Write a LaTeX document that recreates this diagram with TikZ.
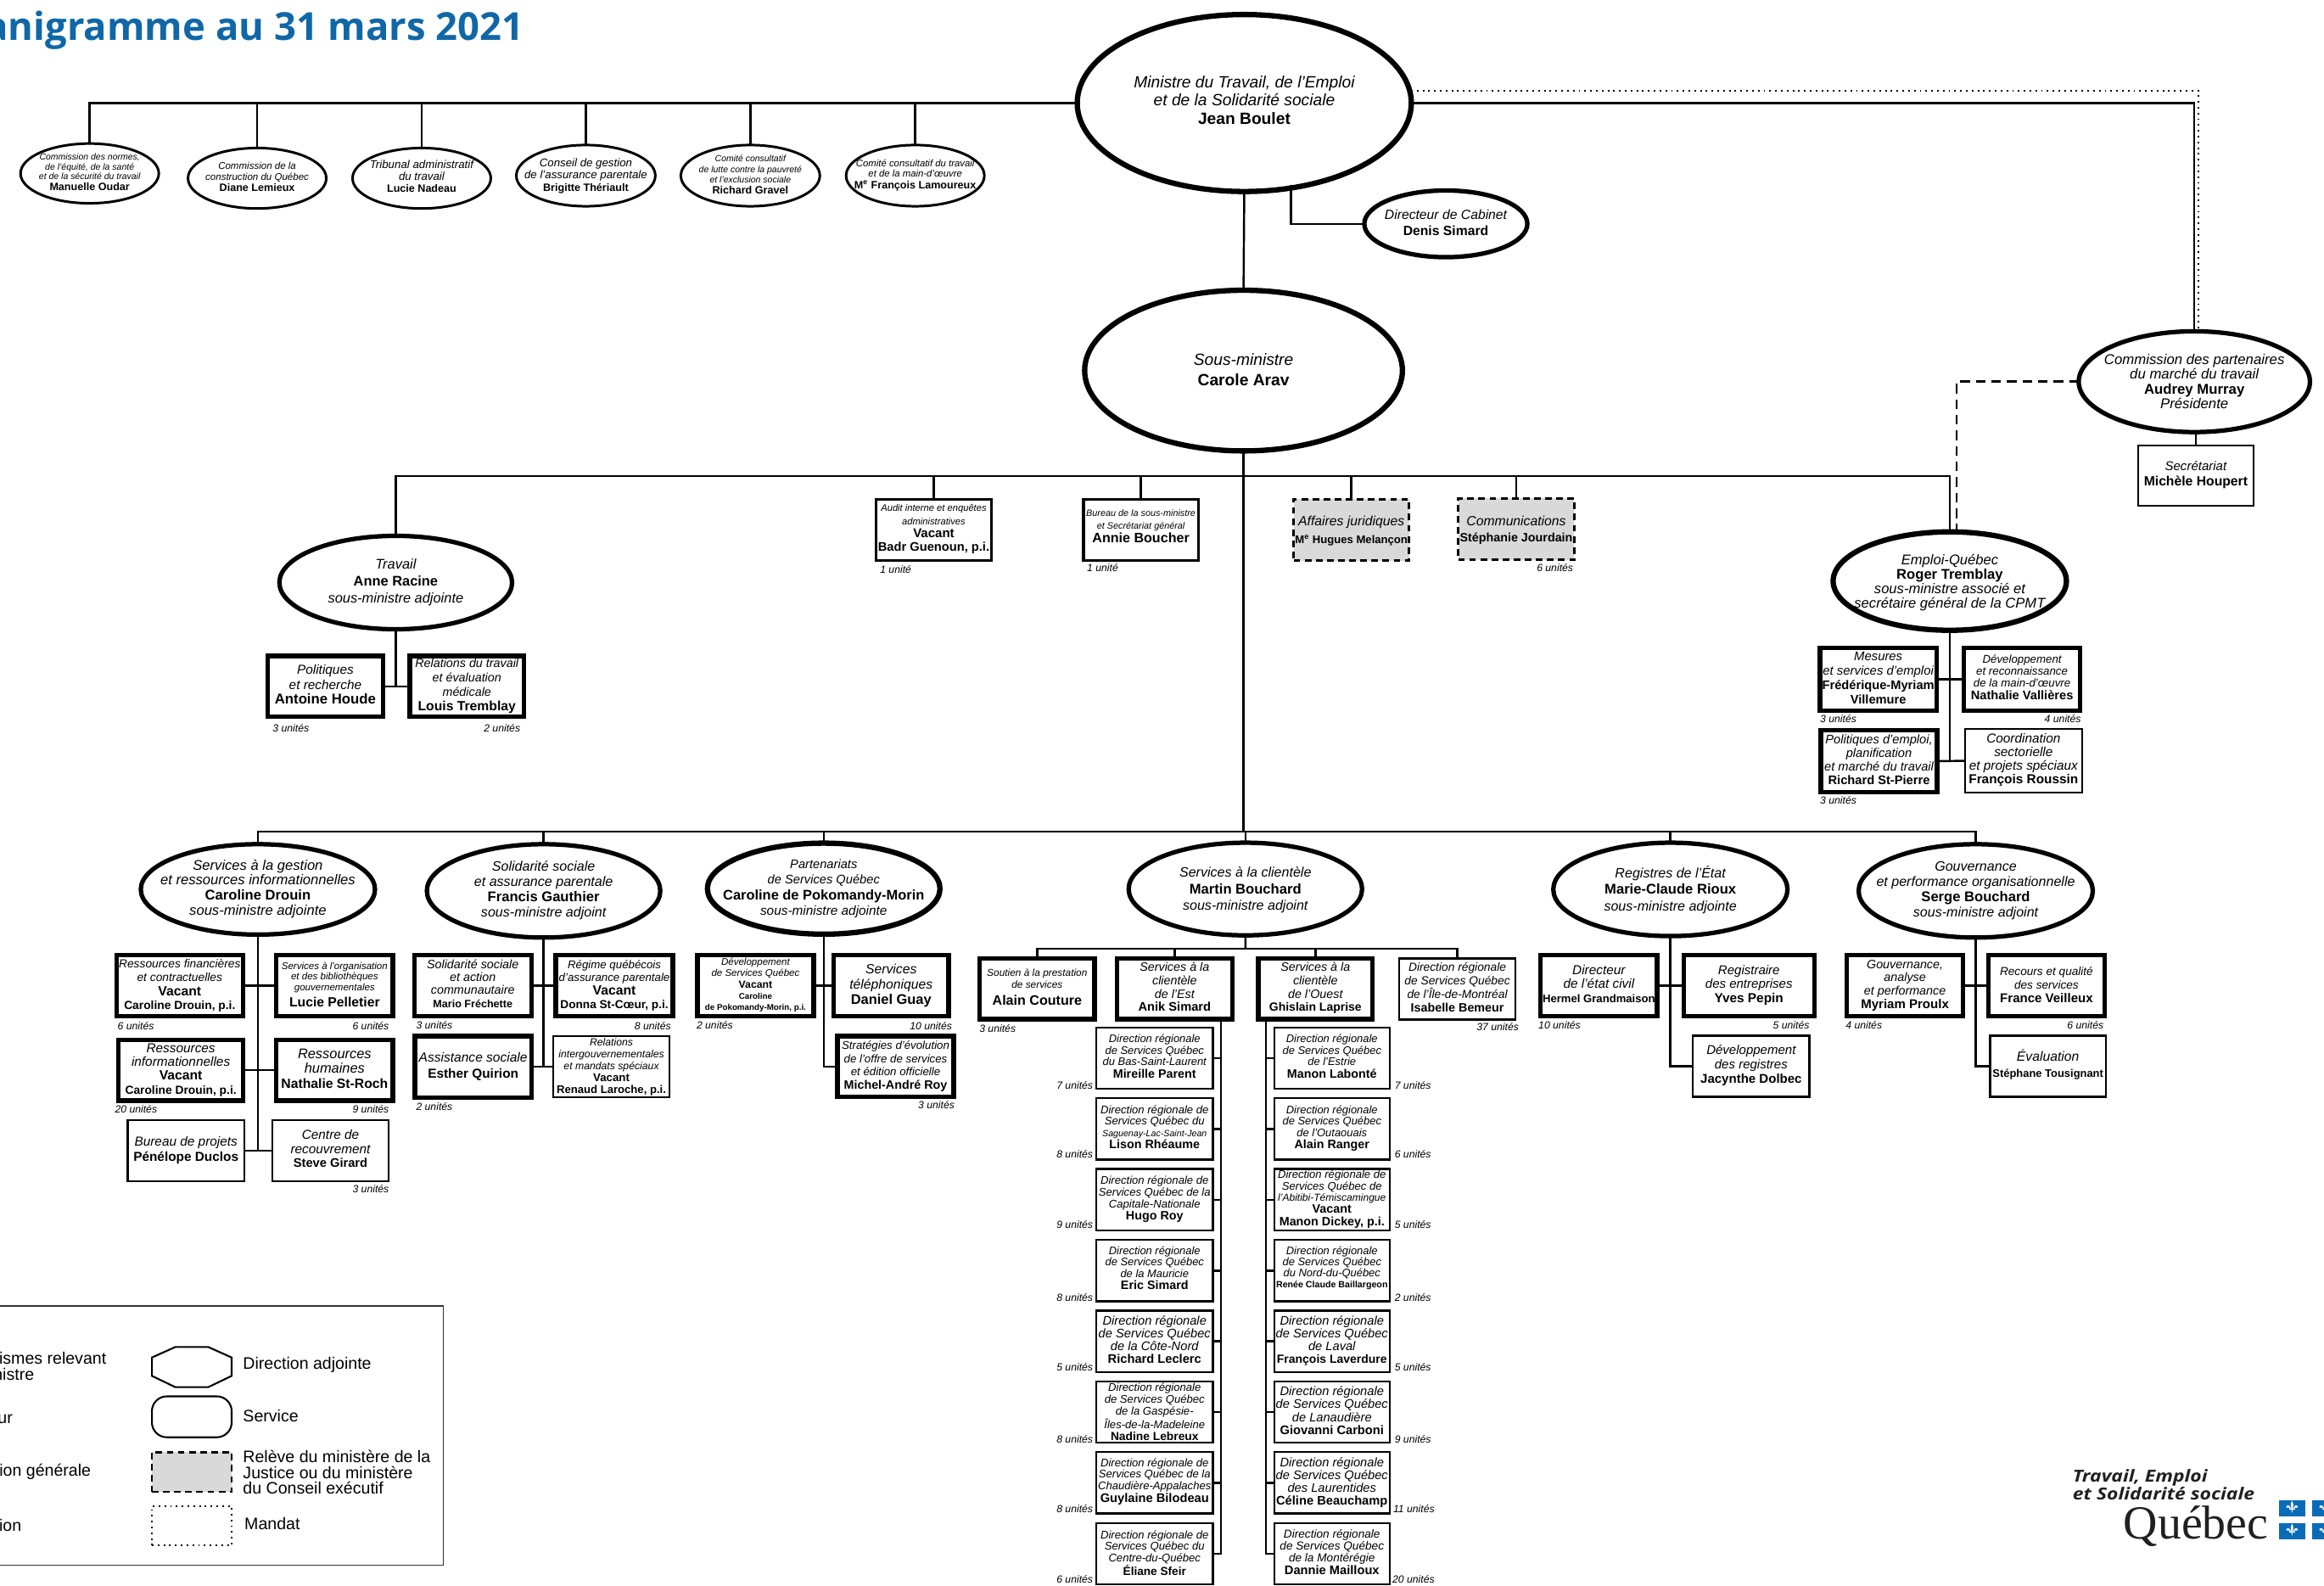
\documentclass[tikz,border=0pt]{standalone}
\usepackage{fontspec}
\setmainfont{Liberation Sans}
\newfontfamily\ttlfont{Open Sans}
\newfontfamily\logofont[FakeStretch=1.17]{Open Sans}
\newfontfamily\quefont{Liberation Serif}
\usetikzlibrary{shapes.geometric}
\definecolor{ttlblue}{HTML}{0F67A8}
\definecolor{flagblue}{HTML}{0A6CB8}
\definecolor{logotxt}{HTML}{231F20}
\definecolor{grayfill}{HTML}{D9D9D9}
\gdef\ztdy{0}
\newcommand\up[1]{\gdef\ztdy{#1}}
\newcommand\ztx[2]{{\fontsize{#1}{#1}\selectfont\smash{\makebox[0pt]{\raisebox{\dimexpr\ztdy pt-0.25em\relax}{\begin{tabular}{@{}c@{}}#2\end{tabular}}}}}\gdef\ztdy{0}}
\newcommand\tI[2]{{\fontsize{#1}{#1}\selectfont\itshape #2}}
\newcommand\tB[2]{{\fontsize{#1}{#1}\selectfont\bfseries #2}}
\newcommand\mkn[9]{%
 \pgfmathsetmacro\cxx{(#4+#6)/2}\pgfmathsetmacro\cyy{(#5+#7)/2}%
 \pgfmathsetmacro\ww{#6-#4-#2}\pgfmathsetmacro\hh{#7-#5-#2}%
 \node[#1,line width=#2pt,minimum width=\ww pt,minimum height=\hh pt] (#3) at (\cxx,\cyy) {\ztx{#8}{#9}};}
\newcommand\tb{\mkn{rectb}{3}}
\newcommand\nb{\mkn{rectb}{1.3}}
\newcommand\mb{\mkn{rectb}{2}}
\newcommand\gb{\mkn{grayb}{1.6}}
\newcommand\ee{\mkn{ell}}
\newcommand\ul[5]{\node[unitl,anchor=#2] (#1) at (#3,#4) {#5};}
\newcommand\fleur[2]{\begin{scope}[shift={(#1,#2)},scale=0.85]
 \fill[white] (0,-5.2) .. controls (1.5,-3) and (1,-1) .. (0.5,1) -- (-0.5,1) .. controls (-1,-1) and (-1.5,-3) .. (0,-5.2) -- cycle;
 \fill[white] (0.9,1) .. controls (1.2,-1.2) and (3.6,-2.8) .. (4.5,-1) .. controls (4.9,0) and (3.9,0.8) .. (3.3,0.1) .. controls (2.8,-0.4) and (2.1,0.2) .. (1.7,1) -- cycle;
 \fill[white] (-0.9,1) .. controls (-1.2,-1.2) and (-3.6,-2.8) .. (-4.5,-1) .. controls (-4.9,0) and (-3.9,0.8) .. (-3.3,0.1) .. controls (-2.8,-0.4) and (-2.1,0.2) .. (-1.7,1) -- cycle;
 \fill[white] (-2.2,1) rectangle (2.2,1.7);
 \fill[white] (-0.5,1.7) -- (0.5,1.7) -- (0,4.4) -- cycle;
 \end{scope}}
\tikzset{
 rectb/.style={draw=black,fill=white,rectangle,inner sep=0pt,outer sep=0pt},
 grayb/.style={draw=black,fill=grayfill,rectangle,inner sep=0pt,outer sep=0pt,dash pattern=on 4.5pt off 3pt},
 ell/.style={draw=black,fill=white,ellipse,inner sep=0pt,outer sep=0pt},
 unitl/.style={inner sep=0pt,outer sep=0pt,font=\fontsize{7}{8}\selectfont\itshape},
 conn/.style={draw=black,line width=1.4pt},
 legt/.style={inner sep=0pt,outer sep=0pt,anchor=west,align=left,font=\fontsize{11.2}{10.4}\selectfont},
 lege/.style={inner sep=0pt,outer sep=0pt,anchor=east,font=\fontsize{11.2}{10.4}\selectfont},
}
\begin{document}
\begin{tikzpicture}[x=1pt,y=-1pt]
\useasboundingbox (0,0) rectangle (1568,1069.4);
\node[inner sep=0pt,outer sep=0pt,anchor=base east,text=ttlblue,font=\ttlfont\bfseries\fontsize{26}{28}\selectfont] (title) at (353.5,27) {anigramme au 31 mars 2021};

% top
\up{0.5}\ee{3.6}{min}{725}{8}{954}{131}{12.2}{\tI{11}{Ministre du Travail, de l’Emploi}\\\tI{11}{et de la Solidarité sociale}\\\tB{11}{Jean Boulet}}
\up{-1}\ee{3.6}{sm}{730}{194}{948}{306}{13.5}{\tI{11}{Sous-ministre}\\\tB{11}{Carole Arav}}
\ee{3}{cab}{919}{127}{1032}{175}{11}{\tI{9}{Directeur de Cabinet}\\\tB{9}{Denis Simard}}
\ee{1.7}{o1}{13}{96}{108}{138}{6.6}{\tI{6}{Commission des normes,}\\\tI{6}{de l’équité, de la santé}\\\tI{6}{et de la sécurité du travail}\\\tB{7.2}{Manuelle Oudar}}
\ee{1.7}{o2}{126}{99}{221}{141.5}{7.4}{\tI{6.6}{Commission de la}\\\tI{6.6}{construction du Québec}\\\tB{7.2}{Diane Lemieux}}
\ee{1.7}{o3}{237}{99}{332}{141.5}{8}{\tI{7.6}{Tribunal administratif}\\\tI{7.6}{du travail}\\\tB{7.2}{Lucie Nadeau}}
\up{-0.5}\ee{1.7}{o4}{347.5}{97}{443}{140}{8.2}{\tI{7.6}{Conseil de gestion}\\\tI{7.6}{de l’assurance parentale}\\\tB{7.2}{Brigitte Thériault}}
\ee{1.7}{o5}{458.5}{97}{554}{140}{7}{\tI{6}{Comité consultatif}\\\tI{6}{de lutte contre la pauvreté}\\\tI{6}{et l’exclusion sociale}\\\tB{7.2}{Richard Gravel}}
\ee{1.7}{o6}{570}{97}{665}{140}{7}{\tI{6.5}{Comité consultatif du travail}\\\tI{6.5}{et de la main-d’œuvre}\\\tB{7.2}{M\textsuperscript{e} François Lamoureux}}
\up{-1.2}\ee{3}{cpmt}{1401}{222}{1560}{293}{10}{\tI{9.6}{Commission des partenaires}\\\tI{9.6}{du marché du travail}\\\tB{9.6}{Audrey Murray}\\\tI{9.6}{Présidente}}
\up{0.5}\nb{sec}{1442}{300}{1521}{342}{10.8}{\tI{8.6}{Secrétariat}\\\tB{9}{Michèle Houpert}}

% sous-ministre row
\ee{3}{tra}{187}{360}{347}{426}{11.5}{\tI{9.4}{Travail}\\\tB{9.4}{Anne Racine}\\\tI{9.4}{sous-ministre adjointe}}
\up{1}\mb{aud}{590}{336}{670}{379}{9}{\tI{6.4}{Audit interne et enquêtes}\\\tI{6.4}{administratives}\\\tB{8.6}{Vacant}\\\tB{8.4}{Badr Guenoun, p.i.}}
\up{2}\mb{bur}{730}{336}{809.5}{379}{8.6}{\tI{6.2}{Bureau de la sous-ministre}\\\tI{6.2}{et Secrétariat général}\\\tB{9.2}{Annie Boucher}}
\up{-1}\gb{aff}{872}{336}{951.5}{379}{12}{\tI{9}{Affaires juridiques}\\\tB{7.5}{M\textsuperscript{e} Hugues Melançon}}
\up{-1}\gb{com}{983}{335.5}{1063}{378.5}{11}{\tI{9}{Communications}\\\tB{8.2}{Stéphanie Jourdain}}
\up{-1.5}\ee{3.6}{eq}{1235}{357}{1396}{427}{9.3}{\tI{9.5}{Emploi-Québec}\\\tB{9.5}{Roger Tremblay}\\\tI{9.5}{sous-ministre associé et}\\\tI{9.5}{secrétaire général de la CPMT}}

% Travail children
\tb{tr1}{179}{441}{260}{485}{10}{\tI{8.8}{Politiques}\\\tI{8.8}{et recherche}\\\tB{9.6}{Antoine Houde}}
\tb{tr2}{275}{441}{355}{485}{9.6}{\tI{8.2}{Relations du travail}\\\tI{8.2}{et évaluation}\\\tI{8.2}{médicale}\\\tB{9}{Louis Tremblay}}
% Emploi-Quebec children
\tb{eq1}{1226.5}{435.5}{1308}{481}{9.8}{\tI{8.5}{Mesures}\\\tI{8.5}{et services d’emploi}\\\tB{8.4}{Frédérique-Myriam}\\\tB{8.4}{Villemure}}
\tb{eq2}{1323.5}{435.5}{1405}{481}{8}{\tI{7.6}{Développement}\\\tI{7.6}{et reconnaissance}\\\tI{7.6}{de la main-d’œuvre}\\\tB{8.4}{Nathalie Vallières}}
\tb{eq3}{1227}{491}{1308.5}{536}{9.2}{\tI{8.4}{Politiques d’emploi,}\\\tI{8.4}{planification}\\\tI{8.4}{et marché du travail}\\\tB{8.4}{Richard St-Pierre}}
\nb{eq4}{1325}{491}{1405.5}{535.5}{9.2}{\tI{8.8}{Coordination}\\\tI{8.8}{sectorielle}\\\tI{8.8}{et projets spéciaux}\\\tB{8.8}{François Roussin}}

% level 2 ellipses
\ee{3}{a1}{93.5}{568}{254.5}{632}{10.2}{\tI{9.5}{Services à la gestion}\\\tI{9.5}{et ressources informationnelles}\\\tB{9.5}{Caroline Drouin}\\\tI{9.5}{sous-ministre adjointe}}
\ee{3}{a2}{286.5}{568}{447}{634}{10.4}{\tI{9.2}{Solidarité sociale}\\\tI{9.2}{et assurance parentale}\\\tB{9.5}{Francis Gauthier}\\\tI{9.2}{sous-ministre adjoint}}
\ee{3.6}{a3}{475.5}{567}{636}{632}{10.4}{\tI{8.4}{Partenariats}\\\tI{8.4}{de Services Québec}\\\tB{9.4}{Caroline de Pokomandy-Morin}\\\tI{8.8}{sous-ministre adjointe}}
\up{-1}\ee{3}{a4}{760}{567}{920.5}{632.5}{11.2}{\tI{9.2}{Services à la clientèle}\\\tB{9.5}{Martin Bouchard}\\\tI{9.2}{sous-ministre adjoint}}
\up{-1}\ee{3}{a5}{1046.5}{567}{1207.5}{633}{11}{\tI{9.2}{Registres de l’État}\\\tB{9.5}{Marie-Claude Rioux}\\\tI{9.2}{sous-ministre adjointe}}
\ee{3}{a6}{1252.5}{568}{1413.5}{634}{10.4}{\tI{9.2}{Gouvernance}\\\tI{9.2}{et performance organisationnelle}\\\tB{9.5}{Serge Bouchard}\\\tI{9.2}{sous-ministre adjoint}}

% a1 children
\tb{g1}{77}{643}{165.5}{687}{9.4}{\tI{7.9}{Ressources financières}\\\tI{7.9}{et contractuelles}\\\tB{9}{Vacant}\\\tB{7.9}{Caroline Drouin, p.i.}}
\tb{g2}{185}{643}{266.5}{687}{7.2}{\tI{6.6}{Services à l’organisation}\\\tI{6.6}{et des bibliothèques}\\\tI{6.6}{gouvernementales}\\[2pt]\tB{9}{Lucie Pelletier}}
\tb{g3}{78.5}{700}{165.5}{744}{9.4}{\tI{8.8}{Ressources}\\\tI{8.8}{informationnelles}\\\tB{9}{Vacant}\\\tB{7.9}{Caroline Drouin, p.i.}}
\tb{g4}{185}{700}{266.5}{744}{10}{\tI{9.4}{Ressources}\\\tI{9.4}{humaines}\\\tB{9}{Nathalie St-Roch}}
\nb{g5}{85.5}{755}{165.5}{797.5}{10}{\tI{8.8}{Bureau de projets}\\\tB{8.8}{Pénélope Duclos}}
\nb{g6}{183}{755}{263}{797.5}{9.6}{\tI{8.8}{Centre de}\\\tI{8.8}{recouvrement}\\\tB{8.4}{Steve Girard}}
% a2 children
\tb{s1}{278}{643}{360}{687}{8.6}{\tI{8.2}{Solidarité sociale}\\\tI{8.2}{et action}\\\tI{8.2}{communautaire}\\\tB{7.2}{Mario Fréchette}}
\tb{s2}{373.5}{643}{455.5}{687}{9}{\tI{7.6}{Régime québécois}\\\tI{7.6}{d’assurance parentale}\\\tB{9}{Vacant}\\\tB{7.8}{Donna St-Cœur, p.i.}}
\tb{s3}{278.5}{697.5}{360}{742}{11}{\tI{8.9}{Assistance sociale}\\\tB{8.8}{Esther Quirion}}
\nb{s4}{372.5}{698.5}{452.5}{741}{8}{\tI{7}{Relations}\\\tI{7}{intergouvernementales}\\\tI{7}{et mandats spéciaux}\\\tB{7.6}{Vacant}\\\tB{7.5}{Renaud Laroche, p.i.}}
% a3 children
\tb{p1}{469}{643}{550.5}{687}{7.6}{\tI{6.6}{Développement}\\\tI{6.6}{de Services Québec}\\\tB{7}{Vacant}\\\tB{5.6}{Caroline}\\\tB{5.6}{de Pokomandy-Morin, p.i.}}
\tb{p2}{561}{643}{641.5}{687}{10.2}{\tI{9}{Services}\\\tI{9}{téléphoniques}\\\tB{9.4}{Daniel Guay}}
\tb{p3}{563.5}{697.5}{645}{741.5}{8.9}{\tI{7.6}{Stratégies d’évolution}\\\tI{7.6}{de l’offre de services}\\\tI{7.6}{et édition officielle}\\\tB{8.2}{Michel-André Roy}}
% a4 children
\up{0.5}\tb{c1}{659.5}{645}{740}{689}{8.4}{\tI{6.8}{Soutien à la prestation}\\\tI{6.8}{de services}\\[2pt]\tB{9.2}{Alain Couture}}
\tb{c2}{752}{645}{833}{689}{9}{\tI{8.2}{Services à la}\\\tI{8.2}{clientèle}\\\tI{8.2}{de l’Est}\\\tB{8.4}{Anik Simard}}
\tb{c3}{847.5}{645}{927.5}{689}{9}{\tI{8.2}{Services à la}\\\tI{8.2}{clientèle}\\\tI{8.2}{de l’Ouest}\\\tB{8}{Ghislain Laprise}}
\nb{c4}{943.5}{646}{1023}{688.5}{8.8}{\tI{7.9}{Direction régionale}\\\tI{7.9}{de Services Québec}\\\tI{7.9}{de l’Île-de-Montréal}\\\tB{8.2}{Isabelle Bemeur}}
% a5 children
\tb{r1}{1038}{643}{1119.5}{687}{9.6}{\tI{8.8}{Directeur}\\\tI{8.8}{de l’état civil}\\\tB{7.5}{Hermel Grandmaison}}
\tb{r2}{1134.5}{643}{1225.5}{687}{9.6}{\tI{8.6}{Registraire}\\\tI{8.6}{des entreprises}\\\tB{8.8}{Yves Pepin}}
\nb{r3}{1141.5}{698}{1221.5}{740.5}{9.6}{\tI{8.6}{Développement}\\\tI{8.6}{des registres}\\\tB{8.6}{Jacynthe Dolbec}}
% a6 children
\tb{v1}{1244.5}{643}{1326}{687}{9}{\tI{8.2}{Gouvernance,}\\\tI{8.2}{analyse}\\\tI{8.2}{et performance}\\\tB{8.6}{Myriam Proulx}}
\up{-0.5}\tb{v2}{1340}{643}{1421.5}{687}{9.2}{\tI{7.8}{Recours et qualité}\\\tI{7.8}{des services}\\\tB{8.6}{France Veilleux}}
\nb{v3}{1342}{698}{1421.5}{740.5}{11}{\tI{9}{Évaluation}\\\tB{7.4}{Stéphane Tousignant}}

% regional left
\nb{d1}{739}{692.5}{819}{735.2}{7.6}{\tI{7.4}{Direction régionale}\\\tI{7.4}{de Services Québec}\\\tI{7.4}{du Bas-Saint-Laurent}\\\tB{8.2}{Mireille Parent}}
\nb{d2}{739}{740.3}{819}{783}{7.7}{\tI{7.5}{Direction régionale de}\\\tI{7.5}{Services Québec du}\\\tI{6.1}{Saguenay-Lac-Saint-Jean}\\\tB{8.2}{Lison Rhéaume}}
\nb{d3}{739}{788}{819}{830.7}{7.8}{\tI{7.5}{Direction régionale de}\\\tI{7.5}{Services Québec de la}\\\tI{7.5}{Capitale-Nationale}\\\tB{8.2}{Hugo Roy}}
\up{0.5}\nb{d4}{739}{835.8}{819}{878.5}{7.6}{\tI{7.4}{Direction régionale}\\\tI{7.4}{de Services Québec}\\\tI{7.4}{de la Mauricie}\\\tB{8.2}{Eric Simard}}
\nb{d5}{739}{883.5}{819}{926.2}{8.4}{\tI{8.4}{Direction régionale}\\\tI{8.4}{de Services Québec}\\\tI{8.4}{de la Côte-Nord}\\\tB{8.4}{Richard Leclerc}}
\up{-1}\nb{d6}{739}{931.3}{819}{974}{8}{\tI{7.5}{Direction régionale}\\\tI{7.5}{de Services Québec}\\\tI{7.5}{de la Gaspésie-}\\\tI{7.5}{Îles-de-la-Madeleine}\\\tB{7.9}{Nadine Lebreux}}
\up{0.5}\nb{d7}{739}{979}{819}{1021.7}{7.8}{\tI{7.5}{Direction régionale de}\\\tI{7.5}{Services Québec de la}\\\tI{7.5}{Chaudière-Appalaches}\\\tB{8.4}{Guylaine Bilodeau}}
\up{-0.8}\nb{d8}{739}{1026.8}{819}{1069.4}{7.6}{\tI{7.5}{Direction régionale de}\\\tI{7.5}{Services Québec du}\\\tI{7.5}{Centre-du-Québec}\\\tB{7.8}{Éliane Sfeir}}
% regional right
\nb{e1}{859}{692.5}{938.3}{735.2}{7.6}{\tI{7.4}{Direction régionale}\\\tI{7.4}{de Services Québec}\\\tI{7.4}{de l’Estrie}\\\tB{8.2}{Manon Labonté}}
\nb{e2}{859}{740.3}{938.3}{783}{7.7}{\tI{7.4}{Direction régionale}\\\tI{7.4}{de Services Québec}\\\tI{7.4}{de l’Outaouais}\\\tB{8.2}{Alain Ranger}}
\nb{e3}{859}{788}{938.3}{830.7}{7.8}{\tI{7.5}{Direction régionale de}\\\tI{7.5}{Services Québec de}\\\tI{6.9}{l’Abitibi-Témiscamingue}\\\tB{8.2}{Vacant}\\\tB{8.2}{Manon Dickey, p.i.}}
\up{1.5}\nb{e4}{859}{835.8}{938.3}{878.5}{7.1}{\tI{7.4}{Direction régionale}\\\tI{7.4}{de Services Québec}\\\tI{7.4}{du Nord-du-Québec}\\\tB{6.1}{Renée Claude Baillargeon}}
\nb{e5}{859}{883.5}{938.3}{926.2}{8.4}{\tI{8.4}{Direction régionale}\\\tI{8.4}{de Services Québec}\\\tI{8.4}{de Laval}\\\tB{8}{François Laverdure}}
\nb{e6}{859}{931.3}{938.3}{974}{8.4}{\tI{8.4}{Direction régionale}\\\tI{8.4}{de Services Québec}\\\tI{8.4}{de Lanaudière}\\\tB{8.4}{Giovanni Carboni}}
\nb{e7}{859}{979}{938.3}{1021.7}{8.4}{\tI{8.4}{Direction régionale}\\\tI{8.4}{de Services Québec}\\\tI{8.4}{des Laurentides}\\\tB{8.4}{Céline Beauchamp}}
\nb{e8}{859}{1026.8}{938.3}{1069.4}{8}{\tI{7.8}{Direction régionale}\\\tI{7.8}{de Services Québec}\\\tI{7.8}{de la Montérégie}\\\tB{8.4}{Dannie Mailloux}}

% unit labels
\ul{u1}{west}{593.8}{384.4}{1 unité}\ul{u2}{west}{733.4}{383.3}{1 unité}\ul{u3}{east}{1061.4}{383.3}{6 unités}
\ul{u4}{west}{184}{491}{3 unités}\ul{u5}{east}{351}{491}{2 unités}
\ul{u6}{west}{1228}{485}{3 unités}\ul{u7}{east}{1404}{485}{4 unités}\ul{u8}{west}{1228}{540}{3 unités}
\ul{u9}{west}{79.4}{692}{6 unités}\ul{u10}{east}{262.4}{692}{6 unités}\ul{u11}{west}{77.6}{748.5}{20 unités}\ul{u12}{east}{262.4}{748.5}{9 unités}\ul{u13}{east}{262.4}{802}{3 unités}
\ul{u14}{west}{280.8}{691.3}{3 unités}\ul{u15}{east}{452.7}{692}{8 unités}\ul{u16}{west}{280.8}{746.3}{2 unités}
\ul{u17}{west}{470}{691.5}{2 unités}\ul{u18}{east}{642.3}{692}{10 unités}\ul{u19}{east}{644}{745.5}{3 unités}
\ul{u20}{west}{660.8}{693.6}{3 unités}\ul{u21}{east}{1024.7}{693}{37 unités}
\ul{u22}{west}{1038}{691.3}{10 unités}\ul{u23}{east}{1220.8}{691.3}{5 unités}\ul{u24}{west}{1245.3}{691.3}{4 unités}\ul{u25}{east}{1419.3}{691.3}{6 unités}
\ul{u31}{east}{737.4}{732.3}{7 unités}\ul{u32}{east}{737.4}{778.6}{8 unités}\ul{u33}{east}{737.4}{826.2}{9 unités}\ul{u34}{east}{737.4}{875.4}{8 unités}\ul{u35}{east}{737.4}{922.3}{5 unités}\ul{u36}{east}{737.4}{971}{8 unités}\ul{u37}{east}{737.4}{1017.9}{8 unités}\ul{u38}{east}{737.4}{1065.4}{6 unités}
\ul{u41}{west}{941}{732.3}{7 unités}\ul{u42}{west}{941}{778.6}{6 unités}\ul{u43}{west}{941}{826.2}{5 unités}\ul{u44}{west}{941}{875.4}{2 unités}\ul{u45}{west}{941}{922.3}{5 unités}\ul{u46}{west}{941}{971}{9 unités}\ul{u47}{west}{940}{1017.9}{11 unités}\ul{u48}{west}{939.5}{1065.4}{20 unités}

% connectors
\foreach \o in {o1,o2,o3,o4,o5,o6}{\draw[conn] (min.west) -| (\o.north);}
\coordinate (cabT) at (871,125);
\draw[conn] (cabT) |- (cab.west);
\draw[conn] (min.south) -- (sm.north);
\draw[conn] (min.east) -| (cpmt.north);
\coordinate (dotS) at (952,61);\coordinate (dotE) at (1483,224);
\draw[line width=1.1pt,dash pattern=on 1.1pt off 2.8pt] (dotS) -| (dotE);
\coordinate (eqT) at (1320,357);
\draw[line width=1.5pt,dash pattern=on 6.5pt off 4pt] (cpmt.west) -| (eqT);
\draw[conn] (cpmt.south -| sec.north) -- (sec.north);
\coordinate (busA) at (839,321);\coordinate (busB) at (839,561);
\draw[conn] (sm.south) -- (busB);
\foreach \o in {tra,aud,bur,aff,com,eq}{\draw[conn] (busA) -| (\o.north);}
\foreach \o in {a1,a2,a3,a4,a5,a6}{\draw[conn] (busB) -| (\o.north);}
\draw[conn] (tra.south) -- (tra.south |- tr1.east);\draw[conn] (tr1.east) -- (tr2.west);
\draw[conn] (eq.south) -- (eq.south |- eq3.east);\draw[conn] (eq1.east) -- (eq2.west);\draw[conn] (eq3.east) -- (eq4.west);
\draw[conn] (a1.south) -- (a1.south |- g5.east);\draw[conn] (g1.east) -- (g2.west);\draw[conn] (g3.east) -- (g4.west);\draw[conn] (g5.east) -- (g6.west);
\draw[conn] (a2.south) -- (a2.south |- s3.east);\draw[conn] (s1.east) -- (s2.west);\draw[conn] (s3.east) -- (s4.west);
\draw[conn] (a3.south) |- (p3.west);\draw[conn] (p1.east) -- (p2.west);
\draw[conn] (a5.south) |- (r3.west);\draw[conn] (r1.east) -- (r2.west);
\draw[conn] (a6.south) |- (v3.west);\draw[conn] (v1.east) -- (v2.west);
\coordinate (busC) at (840.3,640);
\draw[conn] (a4.south) -- (busC);
\foreach \o in {c1,c2,c3,c4}{\draw[conn] (busC) -| (\o.north);}
\coordinate (lT) at (823.8,689);\coordinate (rT) at (854.2,689);
\draw[conn] (lT) |- (d8.east);
\draw[conn] (rT) |- (e8.west);
\foreach \o in {d1,d2,d3,d4,d5,d6,d7}{\draw[conn] (\o.east) -- (\o.east -| lT);}
\foreach \o in {e1,e2,e3,e4,e5,e6,e7}{\draw[conn] (\o.west) -- (\o.west -| rT);}

% legend
\draw[line width=0.8pt,draw=black!80] (0,881) -- (299,881) -- (299,1056) -- (0,1056);
\draw[line width=1.2pt,fill=white] (102.5,915.8) -- (118.3,908.7) -- (140.5,908.7) -- (156.3,915.8) -- (156.3,928.2) -- (140.5,935.8) -- (118.3,935.8) -- (102.5,928.2) -- cycle;
\node[rectb,line width=1.2pt,rounded corners=10pt,minimum width=53.8pt,minimum height=27.6pt] (lg2) at (129.4,955.8) {};
\node[grayb,line width=1.4pt,minimum width=53.8pt,minimum height=26.9pt] (lg3) at (129.4,993.1) {};
\node[rectb,line width=1.1pt,dash pattern=on 1.1pt off 2.8pt,minimum width=53.8pt,minimum height=26.7pt] (lg4) at (129.4,1029.3) {};
\node[legt] (lt1) at (164,921) {Direction adjointe};
\node[legt] (lt2) at (164,955) {Service};
\node[legt] (lt3) at (164,993.2) {Relève du ministère de la\\Justice ou du ministère\\du Conseil exécutif};
\node[legt] (lt4) at (165,1028) {Mandat};
\node[lege] (ll1) at (71.7,916) {ismes relevant};
\node[lege] (ll2) at (23,927) {nistre};
\node[lege] (ll3) at (8.5,957.4) {ur};
\node[lege] (ll4) at (61.3,993) {ion générale};
\node[lege] (ll5) at (14.4,1029) {ion};

% logo
\node[inner sep=0pt,outer sep=0pt,anchor=base west,text=logotxt,font=\logofont\bfseries\itshape\fontsize{11.2}{12.2}\selectfont] (lg1) at (1398.5,999.7) {Travail, Emploi};
\node[inner sep=0pt,outer sep=0pt,anchor=base west,text=logotxt,font=\logofont\bfseries\itshape\fontsize{11.2}{12.2}\selectfont] (lg5) at (1398.5,1012) {et Solidarité sociale};
\node[inner sep=0pt,outer sep=0pt,anchor=base east,text=logotxt,font=\quefont\fontsize{32}{33}\selectfont] (lg6) at (1530.5,1038) {Québec};
\fill[flagblue] (1537.5,1012) rectangle (1555.3,1022.8);
\fill[flagblue] (1537.5,1027.4) rectangle (1555.3,1038.3);
\fill[flagblue] (1559.8,1012) rectangle (1568,1022.8);
\fill[flagblue] (1559.8,1027.4) rectangle (1568,1038.3);
\fleur{1546.4}{1017}\fleur{1546.4}{1032.4}\fleur{1568.7}{1017}\fleur{1568.7}{1032.4}
\end{tikzpicture}
\end{document}
